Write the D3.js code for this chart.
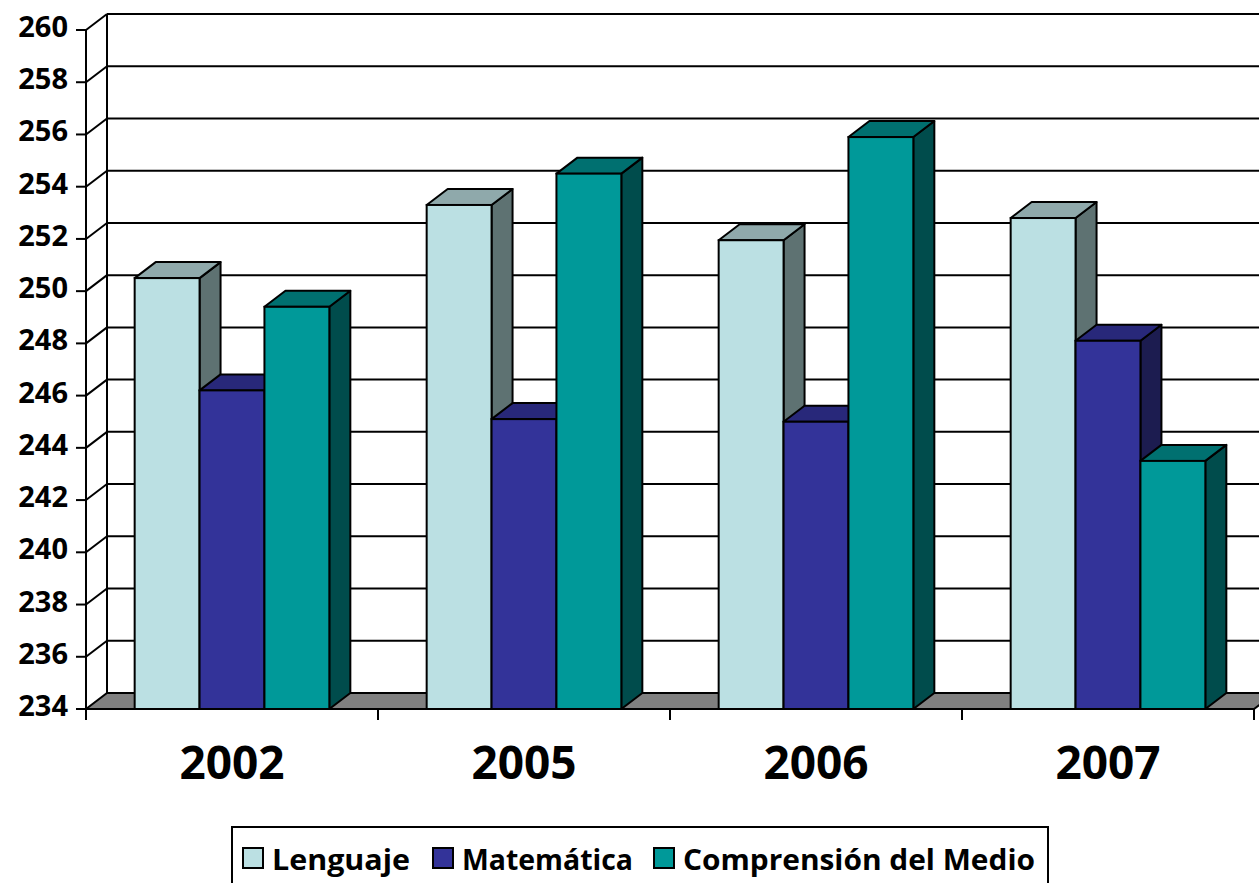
<!DOCTYPE html>
<html><head><meta charset="utf-8">
<script src="https://cdn.jsdelivr.net/npm/d3@7"></script>
<style>html,body{margin:0;padding:0;background:#fff;overflow:hidden}</style>
</head><body>
<svg id="c" width="1259" height="883"></svg>
<script>
const years = ["2002","2005","2006","2007"];
const series = ["Lenguaje","Matemática","Comprensión del Medio"];
const lenguaje = [250.5, 253.3, 251.95, 252.8];
const matematica = [246.2, 245.1, 245.0, 248.1];
const comprension = [249.4, 254.5, 255.9, 243.5];
const yTicks = [234,236,238,240,242,244,246,248,250,252,254,256,258,260];

const values = [lenguaje, matematica, comprension];
const colors = [
  {front:"#BBE0E3", top:"#8FA9AB", side:"#5E7272"},
  {front:"#333399", top:"#28287A", side:"#1C1C50"},
  {front:"#009999", top:"#007070", side:"#004C4C"}
];
const DX = 21, DY = -16;
const X0 = 86, X1 = 1254;

const svg = d3.select("#c");
const y = d3.scaleLinear().domain([234,260]).range([709,30]);
const x0 = d3.scaleBand().domain(years).range([X0,X1]).padding(0);
const x1 = d3.scaleBand().domain(series).range([0,x0.bandwidth()]).paddingInner(0).paddingOuter(0.75);

const g = svg.append("g");
// back wall gridlines
yTicks.forEach(t=>{
  if (t===234) return;
  g.append("line").attr("x1",X0+DX).attr("x2",1300).attr("y1",y(t)+DY).attr("y2",y(t)+DY)
    .attr("stroke","#000").attr("stroke-width",2);
  g.append("line").attr("x1",X0).attr("x2",X0+DX).attr("y1",y(t)).attr("y2",y(t)+DY)
    .attr("stroke","#000").attr("stroke-width",2);
});
g.append("line").attr("x1",X0+DX).attr("x2",X0+DX).attr("y1",y(260)+DY).attr("y2",y(234)+DY)
  .attr("stroke","#000").attr("stroke-width",2);
// floor
g.append("polygon")
  .attr("points",[[X0,y(234)],[X0+DX,y(234)+DY],[X1+DX,y(234)+DY],[X1,y(234)]].map(p=>p.join(",")).join(" "))
  .attr("fill","#808080").attr("stroke","#000").attr("stroke-width",2);

// bars
years.forEach((yr,i)=>{
  series.forEach((s,j)=>{
    const v = values[j][i];
    const xl = x0(yr)+x1(s), xr = xl + x1.bandwidth();
    const yt = y(v), yb = y(234);
    const c = colors[j];
    g.append("polygon").attr("points",[[xr,yt],[xr+DX,yt+DY],[xr+DX,yb+DY],[xr,yb]].map(p=>p.join(",")).join(" "))
      .attr("fill",c.side).attr("stroke","#000").attr("stroke-width",2).attr("stroke-linejoin","round");
    g.append("polygon").attr("points",[[xl,yt],[xl+DX,yt+DY],[xr+DX,yt+DY],[xr,yt]].map(p=>p.join(",")).join(" "))
      .attr("fill",c.top).attr("stroke","#000").attr("stroke-width",2).attr("stroke-linejoin","round");
    g.append("rect").attr("x",xl).attr("y",yt).attr("width",xr-xl).attr("height",yb-yt)
      .attr("fill",c.front).attr("stroke","#000").attr("stroke-width",2);
  });
});

// front axis
g.append("line").attr("x1",X0).attr("x2",X0).attr("y1",y(260)).attr("y2",y(234)+11)
  .attr("stroke","#000").attr("stroke-width",2);
g.append("line").attr("x1",X0).attr("x2",X1).attr("y1",y(234)).attr("y2",y(234))
  .attr("stroke","#000").attr("stroke-width",2);
yTicks.forEach(t=>{
  g.append("line").attr("x1",X0-10).attr("x2",X0).attr("y1",y(t)).attr("y2",y(t))
    .attr("stroke","#000").attr("stroke-width",2);
  g.append("text").attr("x",X0-18).attr("y",y(t)+7).attr("text-anchor","end")
    .attr("font-family","'Open Sans', sans-serif").attr("font-weight","bold").attr("font-size",29)
    .text(t);
});
years.forEach((yr,i)=>{
  const xt = x0(yr)+x0.bandwidth();
  g.append("line").attr("x1",xt).attr("x2",xt).attr("y1",y(234)).attr("y2",y(234)+11)
    .attr("stroke","#000").attr("stroke-width",2);
  g.append("text").attr("x",x0(yr)+x0.bandwidth()/2).attr("y",779).attr("text-anchor","middle")
    .attr("font-family","'Open Sans', sans-serif").attr("font-weight","bold").attr("font-size",46)
    .text(yr);
});

// legend
const lg = svg.append("g");
lg.append("rect").attr("x",232).attr("y",827).attr("width",816).attr("height",70)
  .attr("fill","#fff").attr("stroke","#000").attr("stroke-width",2);
const legX = [243, 433, 654];
const legW = [138, 171, 352];
series.forEach((s,j)=>{
  lg.append("rect").attr("x",legX[j]).attr("y",848).attr("width",20).attr("height",20)
    .attr("fill",colors[j].front).attr("stroke","#000").attr("stroke-width",2);
  lg.append("text").attr("x",legX[j]+29).attr("y",870)
    .attr("font-family","'Open Sans', sans-serif").attr("font-weight","bold").attr("font-size",28)
    .attr("textLength",legW[j]).attr("lengthAdjust","spacingAndGlyphs")
    .text(s);
});
</script>
</body></html>
